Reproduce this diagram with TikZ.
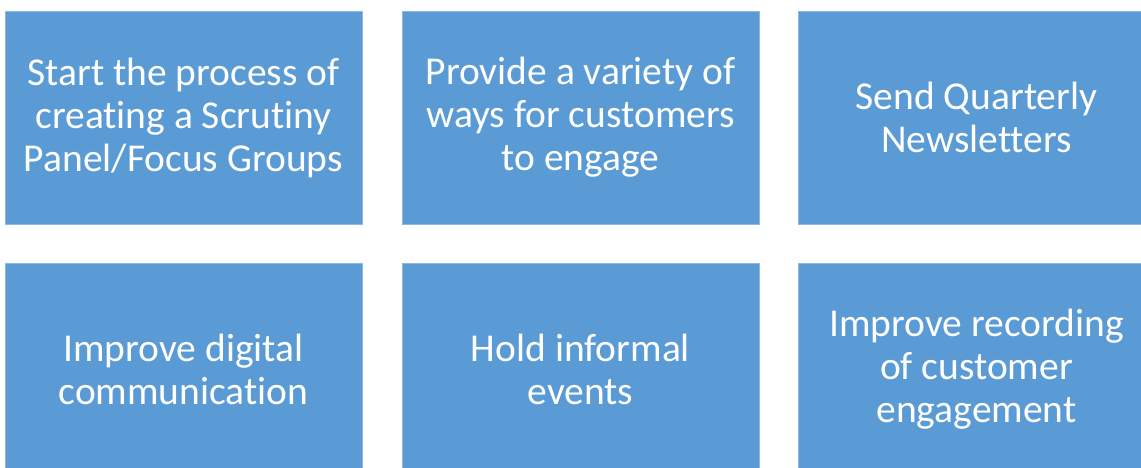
\documentclass[tikz,border=0pt]{standalone}
\usepackage{fontspec}
\setmainfont{Carlito}[Ligatures={NoCommon}]
\definecolor{tileblue}{HTML}{5B9BD5}
\definecolor{tileedge}{HTML}{8DB8E2}
\begin{document}
\begin{tikzpicture}[x=1pt,y=-1pt,
  tile/.style={draw=tileedge,line width=0.8pt,fill=tileblue,text=white,
    minimum width=357pt,minimum height=213pt,inner sep=0pt,
    align=center,font=\fontsize{39.5}{43}\selectfont}]
\useasboundingbox (0,0) rectangle (1141,468);
\clip (0,0) rectangle (1141,468);
\node[tile] (t1) at (183.5,117.5) {Start the process of\\creating a Scrutiny\\Panel/Focus Groups};
\node[tile] (t2) at (580.5,117.5) {Provide a variety of\\ways for customers\\to engage};
\node[tile] (t3) at (976.5,117.5) {Send Quarterly\\Newsletters};
\node[tile] (t4) at (183.5,369.5) {Improve digital\\communication};
\node[tile] (t5) at (580.5,369.5) {Hold informal\\events};
\node[tile] (t6) at (976.5,369.5) {Improve recording\\of customer\\engagement};
\end{tikzpicture}
\end{document}
